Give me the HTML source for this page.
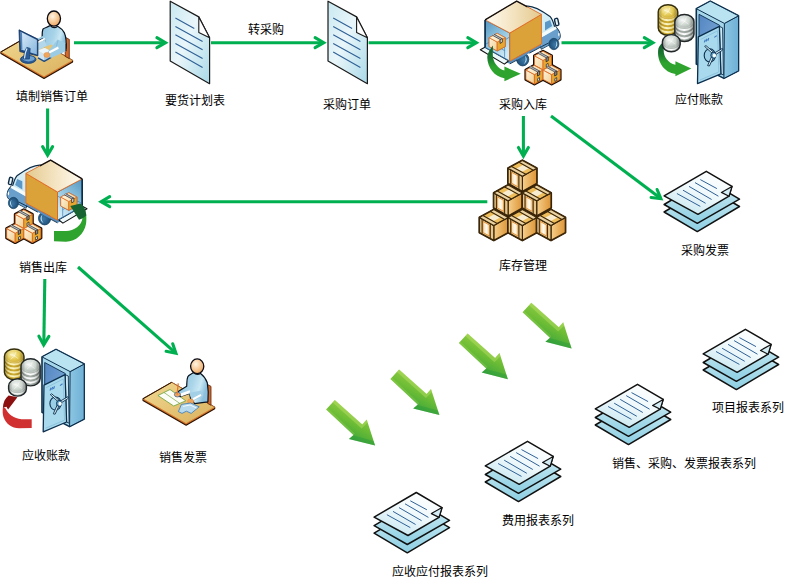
<!DOCTYPE html>
<html lang="zh"><head><meta charset="utf-8"><title>业务流程图</title>
<style>
html,body{margin:0;padding:0;background:#fff;}
body{width:801px;height:584px;overflow:hidden;position:relative;font-family:"Liberation Sans","Noto Sans CJK SC",sans-serif;}
svg{position:absolute;left:0;top:0;display:block;}
.t{position:absolute;font-size:12px;line-height:12px;color:transparent;white-space:nowrap;margin:0;}
</style></head><body>
<svg width="801" height="584" viewBox="0 0 801 584">
<defs>
<linearGradient id="gDoc" x1="0" y1="0" x2="1" y2="1">
 <stop offset="0" stop-color="#c9e8f1"/><stop offset="0.45" stop-color="#e9f6fa"/><stop offset="1" stop-color="#a9d9e8"/>
</linearGradient>
<g id="doc">
 <path d="M0 0L28.6 15.7L39.4 36.5L39.4 82.5L0 59.9Z" fill="url(#gDoc)" stroke="#1a1a1a" stroke-width="1.2" stroke-linejoin="round"/>
 <path d="M28.6 15.7L28.6 31.2L39.4 36.5Z" fill="#ffffff" stroke="#1a1a1a" stroke-width="1.1" stroke-linejoin="round"/>
 <path d="M5.2 16.9L24.1 27.4M5.2 25.2L32.4 40.3M5.2 33.5L32.4 48.5M5.2 42.2L32.4 57.3M5.2 50.8L32.4 66.3" stroke="#2f6096" stroke-width="1.1" fill="none"/>
</g>

<linearGradient id="gSheetTop" x1="0.8" y1="0" x2="0.2" y2="1">
 <stop offset="0" stop-color="#ffffff"/><stop offset="0.5" stop-color="#eef8fb"/><stop offset="1" stop-color="#c4e6f0"/>
</linearGradient>
<linearGradient id="gSheetLow" x1="0.5" y1="0" x2="0.5" y2="1">
 <stop offset="0" stop-color="#d5eef5"/><stop offset="1" stop-color="#8ccfe3"/>
</linearGradient>
<g id="stack">
 <path d="M0.1 41L42.3 16L75.5 35.5L33.3 60.6Z" fill="url(#gSheetLow)" stroke="#111" stroke-width="1.5" stroke-linejoin="round"/>
 <path d="M0.1 33.5L42.3 8.5L75.5 28.2L33.3 52.3Z" fill="url(#gSheetLow)" stroke="#111" stroke-width="1.5" stroke-linejoin="round"/>
 <path d="M0.1 24.9L42.3 0.3L68 15.4L65 25.2L34 43.3Z" fill="url(#gSheetTop)" stroke="#111" stroke-width="1.5" stroke-linejoin="round"/>
 <path d="M68 15.4L57.4 21.4L65 25.2Z" fill="#d4edf4" stroke="#111" stroke-width="1.2" stroke-linejoin="round"/>
 <path d="M36.3 8.6L52.9 17.6M31 11.6L54.4 25.2M25 15.4L47.6 28.5M19 19.2L41.6 32.3M12.9 22.5L36.3 35.4" stroke="#2f6096" stroke-width="1" fill="none"/>
</g>

<linearGradient id="gBig" x1="0.75" y1="0.1" x2="0.3" y2="0.9">
 <stop offset="0" stop-color="#a4d54a"/><stop offset="0.5" stop-color="#6cbc35"/><stop offset="1" stop-color="#2a9e3c"/>
</linearGradient>
<g id="big">
 <path d="M19.8 10L11.1 19.5L38.4 45L33.9 48.9L60.1 55.6L51.7 29.5L47.3 34.5Z" fill="url(#gBig)"/>
 <path d="M19.8 10L47.3 34.5L51.7 29.5L52.7 32.6L46.6 38.6L17.6 12.4Z" fill="#d8f07a" fill-opacity="0.3"/>
 <path d="M11.1 19.5L38.4 45L39.9 43.4L12.6 17.9Z" fill="#c6ea6a" fill-opacity="0.22"/>
 <path d="M33.9 48.9L60.1 55.6L58.6 51L38.6 45.4Z" fill="#1f9440" fill-opacity="0.35"/>
</g>
<linearGradient id="gCrR" x1="0" y1="0" x2="1" y2="0"><stop offset="0" stop-color="#f6cf8c"/><stop offset="1" stop-color="#dd9536"/></linearGradient>
<linearGradient id="gCrL" x1="0" y1="0" x2="1" y2="0"><stop offset="0" stop-color="#f3d9a6"/><stop offset="0.55" stop-color="#fffaf0"/><stop offset="1" stop-color="#f0d49c"/></linearGradient>
<g id="crate" stroke-linejoin="round">
 <path d="M0 0L14.3 7.9L14.3 22.9L0 30.8L-14.3 22.9L-14.3 7.9Z" fill="#e9cf9c" stroke="#33200a" stroke-width="2.2"/>
 <path d="M0 15.8L14.3 7.9L14.3 22.9L0 30.8Z" fill="url(#gCrR)" stroke="#3d2708" stroke-width="1.2"/>
 <path d="M-14.3 7.9L0 15.8L0 30.8L-14.3 22.9Z" fill="#e6c88e" stroke="#3d2708" stroke-width="1.2"/>
 <path d="M-10.9 11.8L-4.4 15.4L-4.4 26.4L-10.9 22.8Z" fill="url(#gCrL)" stroke="#df8426" stroke-width="0.8"/>
 <path d="M-11.7 9.6L-11.7 24.2M-3.5 14L-3.5 28.6" stroke="#4a2f0a" stroke-width="1.1" fill="none"/>
 <path d="M0 0L14.3 7.9L0 15.8L-14.3 7.9Z" fill="#efbe5c" stroke="#3d2708" stroke-width="1.2"/>
 <path d="M0.6 4.6L6.4 7.8L-0.2 11.4L-6 8.2Z" fill="#f8ecd0"/>
 <path d="M0 0L14.3 7.9L10.9 9.8L-3.4 1.9Z" fill="#ead2a2" stroke="#3d2708" stroke-width="1.1"/>
 <path d="M-14.3 7.9L0 15.8L3.4 13.9L-10.9 6Z" fill="#ead2a2" stroke="#3d2708" stroke-width="1.1"/>
</g>

<linearGradient id="gBxL" x1="0" y1="0" x2="1" y2="1"><stop offset="0" stop-color="#fff3dc"/><stop offset="1" stop-color="#efcf92"/></linearGradient>
<linearGradient id="gBxT" x1="0" y1="0" x2="1" y2="0"><stop offset="0" stop-color="#fff6e2"/><stop offset="1" stop-color="#f3d9a0"/></linearGradient>
<g id="sboxO" stroke-linejoin="round">
 <path d="M0 0L8.5 4.6L8.5 14L0 18.6L-8.5 14L-8.5 4.6Z" fill="#1a0f05" stroke="#1a0f05" stroke-width="3"/>
</g>
<g id="sboxF" stroke-linejoin="round">
 <path d="M-8.5 4.6L0 9.2L0 18.6L-8.5 14Z" fill="url(#gBxL)" stroke="#e0681e" stroke-width="0.8"/>
 <path d="M0 9.2L8.5 4.6L8.5 14L0 18.6Z" fill="#e6a733" stroke="#e0681e" stroke-width="0.8"/>
 <path d="M0 0L8.5 4.6L0 9.2L-8.5 4.6Z" fill="url(#gBxT)" stroke="#e0681e" stroke-width="0.8"/>
 <path d="M-5.4 1.9L3.1 6.5L5.3 5.3L-3.2 0.7Z" fill="#b9bec2"/>
 <path d="M-5 2.1L3.3 6.6M-3.4 1L4.9 5.5" stroke="#30343a" stroke-width="0.7" fill="none"/>
 <path d="M3.1 6.7L5.3 5.5L5.3 9.4L3.1 10.6Z" fill="#8a8f94" stroke="#15181c" stroke-width="0.7"/>
 <path d="M3.3 13.2L5.1 12.2L5.1 15L3.3 16Z" fill="#f4f4f4" stroke="#15181c" stroke-width="0.7"/>
</g>
<g id="sbox"><use href="#sboxO"/><use href="#sboxF"/></g>
<g id="sboxIn" stroke-linejoin="round">
 <path d="M0 0L8.5 4.6L8.5 14L0 18.6L-8.5 14L-8.5 4.6Z" fill="#e7a834" stroke="#5d7fa6" stroke-width="1"/>
 <path d="M-8.5 4.6L0 9.2L0 18.6L-8.5 14Z" fill="url(#gBxL)" stroke="#e0681e" stroke-width="0.8"/>
 <path d="M0 9.2L8.5 4.6L8.5 14L0 18.6Z" fill="#e6a733" stroke="#e0681e" stroke-width="0.8"/>
 <path d="M0 0L8.5 4.6L0 9.2L-8.5 4.6Z" fill="url(#gBxT)" stroke="#e0681e" stroke-width="0.8"/>
 <path d="M-5.4 1.9L3.1 6.5L5.3 5.3L-3.2 0.7Z" fill="#c4c8cb"/>
 <path d="M-5 2.1L3.3 6.6M-3.4 1L4.9 5.5" stroke="#30343a" stroke-width="0.8" fill="none"/>
 <path d="M3.1 6.7L5.3 5.5L5.3 9.4L3.1 10.6Z" fill="#f2f2f2" stroke="#15181c" stroke-width="0.8"/>
</g>
<g id="box3"><use href="#sboxO" x="8.6" y="0"/><use href="#sboxO" x="0" y="14.2"/><use href="#sboxO" x="17.2" y="14.2"/><use href="#sboxF" x="8.6" y="0"/><use href="#sboxF" x="0" y="14.2"/><use href="#sboxF" x="17.2" y="14.2"/></g>

<linearGradient id="gTkTop" x1="0" y1="0" x2="1" y2="0"><stop offset="0" stop-color="#fffaf0"/><stop offset="0.5" stop-color="#f3e3c0"/><stop offset="1" stop-color="#e4c98e"/></linearGradient>
<linearGradient id="gTkIn" x1="0" y1="0" x2="0.6" y2="1"><stop offset="0" stop-color="#5596c0"/><stop offset="0.55" stop-color="#93c6e0"/><stop offset="1" stop-color="#cfeaf5"/></linearGradient>
<linearGradient id="gCab" x1="0" y1="0" x2="1" y2="1"><stop offset="0" stop-color="#e9f7fb"/><stop offset="1" stop-color="#b9e0ee"/></linearGradient>
<radialGradient id="gWh" cx="0.6" cy="0.55" r="0.6"><stop offset="0" stop-color="#3f79a8"/><stop offset="1" stop-color="#1b4b74"/></radialGradient>
<g id="wheel">
 <ellipse cx="0" cy="0" rx="6.1" ry="6.6" fill="url(#gWh)" stroke="#16405f" stroke-width="0.8"/>
 <path d="M2.2 -3.6C5 -1.5,4.6 3,1 4.6C3 2.6,3.6 -0.8,2.2 -3.6Z" fill="#bfe6f4"/>
</g>
<g id="truck" stroke-linejoin="round">
 <!-- cab -->
 <path d="M526 6.2C531 5.2,541 10,550 16.4C552.5 19,553.5 23,554.4 26C558 29,559.8 32,560 34.5C560.4 36.5,560 38.5,558 40L541.4 49L536 30Z" fill="url(#gCab)" stroke="#0d2b45" stroke-width="1.2"/>
 <path d="M541.4 37.2L556.6 28.6C559 31,560 33.5,560 35.5C560.2 37.5,559.8 38.8,558 40L541.4 49Z" fill="#6a9fcb"/>
 <path d="M541.4 33.6L555.4 26.4L556.8 28.8L541.4 37.4Z" fill="#f4fbfd"/>
 <path d="M545 22.3L550.1 19.9L552.2 26L545 30.5Z" fill="#5a96c6"/>
 <path d="M558.6 32.6C559.8 33.4,559.8 35.6,558.8 36.4C558 35.4,558 33.6,558.6 32.6Z" fill="#ffffff"/>
 <rect x="555" y="18.4" width="3.4" height="7.2" rx="1.2" transform="rotate(-12 556.7 22)" fill="#e9f6fb" stroke="#0d2b45" stroke-width="1.4"/>
 <!-- chassis -->
 <use href="#wheel" x="522.7" y="59.3"/>
 <path d="M509.8 61.1L541.4 44L541.4 46.6L509.8 63.8L506 62.2Z" fill="#5a90c0"/>
 <path d="M509.8 63.9L517 60M529.4 53.2L541.4 46.7L548.6 43" stroke="#0d2b45" stroke-width="0.9" fill="none"/>
 <use href="#wheel" transform="translate(553.9,44) scale(0.83,0.86)"/>
 <!-- tailgate -->
 <path d="M480.3 49.7L484.9 47.3L508.7 60.8L504.4 64.1Z" fill="#eef9fc" stroke="#111" stroke-width="1.1"/>
 <!-- back opening -->
 <path d="M485.1 19.9L509.8 33L509.8 61.1L485.1 47.3Z" fill="url(#gTkIn)" stroke="#2f6fa8" stroke-width="1"/>
 <path d="M509.8 37L504.6 40L504.6 57.6M485.6 44.2L489.4 42.2L504.6 50.6" stroke="#3f7fb6" stroke-width="0.7" fill="none"/>
 <!-- right (orange) face -->
 <path d="M509.8 33L541.4 14.4L541.4 44L509.8 61.1Z" fill="#dba23a" stroke="#e0681e" stroke-width="0.9"/>
 <!-- top face -->
 <path d="M485.1 19.9L516.7 1.1L541.4 14.4L509.8 33Z" fill="url(#gTkTop)" stroke="#e0681e" stroke-width="0.9"/>
 <path d="M485.1 19.9L516.7 1.1L527.4 6.9" fill="none" stroke="#111" stroke-width="1.3"/>
 <path d="M485.1 19.9L485.1 47.3" fill="none" stroke="#0d2b45" stroke-width="1.6"/>
</g>
<linearGradient id="gGr1" x1="0" y1="0" x2="0" y2="1"><stop offset="0" stop-color="#115a2c"/><stop offset="0.35" stop-color="#1c7a30"/><stop offset="0.6" stop-color="#2ea32e"/><stop offset="1" stop-color="#2ea32e"/></linearGradient>
<linearGradient id="gGr2" x1="0" y1="1" x2="0.9" y2="0"><stop offset="0" stop-color="#2ea32e"/><stop offset="0.7" stop-color="#2ea32e"/><stop offset="1" stop-color="#1c6a30"/></linearGradient>


<linearGradient id="ggD" x1="0" y1="0" x2="1" y2="0"><stop offset="0" stop-color="#a9861a"/><stop offset="0.45" stop-color="#cfae34"/><stop offset="1" stop-color="#9c7a14"/></linearGradient>
<linearGradient id="gsD" x1="0" y1="0" x2="1" y2="0"><stop offset="0" stop-color="#868e89"/><stop offset="0.45" stop-color="#a9b1ab"/><stop offset="1" stop-color="#767e79"/></linearGradient>
<linearGradient id="gShade" x1="0" y1="0" x2="1" y2="0"><stop offset="0" stop-color="#000" stop-opacity="0.28"/><stop offset="0.22" stop-color="#000" stop-opacity="0"/><stop offset="0.75" stop-color="#000" stop-opacity="0"/><stop offset="1" stop-color="#000" stop-opacity="0.3"/></linearGradient>
<linearGradient id="ggE" x1="0" y1="0" x2="1" y2="0"><stop offset="0" stop-color="#c9a422"/><stop offset="0.45" stop-color="#ecd564"/><stop offset="1" stop-color="#b8921c"/></linearGradient>
<linearGradient id="ggR" x1="0" y1="0" x2="1" y2="0"><stop offset="0" stop-color="#e6d26c"/><stop offset="0.45" stop-color="#fcf6c8"/><stop offset="1" stop-color="#d6bc50"/></linearGradient>
<radialGradient id="ggT" cx="0.42" cy="0.38" r="0.7"><stop offset="0" stop-color="#fbf3c0"/><stop offset="0.45" stop-color="#e6cd58"/><stop offset="1" stop-color="#c39d22"/></radialGradient>
<linearGradient id="gsE" x1="0" y1="0" x2="1" y2="0"><stop offset="0" stop-color="#a3aba5"/><stop offset="0.45" stop-color="#d3dad4"/><stop offset="1" stop-color="#8e9691"/></linearGradient>
<linearGradient id="gsR" x1="0" y1="0" x2="1" y2="0"><stop offset="0" stop-color="#d8dedb"/><stop offset="0.5" stop-color="#ffffff"/><stop offset="1" stop-color="#c2c9c5"/></linearGradient>
<radialGradient id="gsT" cx="0.42" cy="0.38" r="0.7"><stop offset="0" stop-color="#f4f7f4"/><stop offset="0.5" stop-color="#cdd5cf"/><stop offset="1" stop-color="#9aa39d"/></radialGradient>
<linearGradient id="gSfR" x1="0" y1="0" x2="1" y2="0"><stop offset="0" stop-color="#8cc6e2"/><stop offset="1" stop-color="#6fb0d6"/></linearGradient>
<linearGradient id="gSfIn" x1="0" y1="0" x2="1" y2="1"><stop offset="0" stop-color="#5586c2"/><stop offset="1" stop-color="#7fadd9"/></linearGradient>
<g id="coins"><path d="M658.2 12A9.8 7.3 0 0 1 677.8 12L677.8 28.00A9.8 7.3 0 0 1 658.2 28.00Z" fill="url(#ggD)"/><ellipse cx="668" cy="26.00" rx="9.8" ry="7.3" fill="url(#ggR)"/><ellipse cx="668" cy="24.00" rx="9.8" ry="7.3" fill="url(#ggD)"/><ellipse cx="668" cy="22.00" rx="9.8" ry="7.3" fill="url(#ggR)"/><ellipse cx="668" cy="20.00" rx="9.8" ry="7.3" fill="url(#ggD)"/><ellipse cx="668" cy="18.00" rx="9.8" ry="7.3" fill="url(#ggR)"/><ellipse cx="668" cy="16.00" rx="9.8" ry="7.3" fill="url(#ggD)"/><ellipse cx="668" cy="14.00" rx="9.8" ry="7.3" fill="url(#ggR)"/><ellipse cx="668" cy="12.00" rx="9.8" ry="7.3" fill="url(#ggT)"/><ellipse cx="668" cy="12.00" rx="8.5" ry="6.199999999999999" fill="none" stroke="#ffffff" stroke-opacity="0.35" stroke-width="0.7"/><path d="M664.6 14.80L668.2 11.60L669.8 7.80M668.2 11.60L671.8 14.20M668.2 11.60L664.2 10.20" fill="none" stroke="#ffffff" stroke-opacity="0.5" stroke-width="0.9" stroke-linecap="round"/><path d="M658.2 12A9.8 7.3 0 0 1 677.8 12L677.8 28.00A9.8 7.3 0 0 1 658.2 28.00Z" fill="url(#gShade)"/><path d="M658.2 12A9.8 7.3 0 0 1 677.8 12L677.8 28.00A9.8 7.3 0 0 1 658.2 28.00Z" fill="none" stroke="#332e0c" stroke-width="1.4"/><path d="M674.8 21.8A9.6 7.3 0 0 1 694.0 21.8L694.0 34.25A9.6 7.3 0 0 1 674.8 34.25Z" fill="url(#gsD)"/><ellipse cx="684.4" cy="32.10" rx="9.6" ry="7.3" fill="url(#gsR)"/><ellipse cx="684.4" cy="30.10" rx="9.6" ry="7.3" fill="url(#gsD)"/><ellipse cx="684.4" cy="27.95" rx="9.6" ry="7.3" fill="url(#gsR)"/><ellipse cx="684.4" cy="25.95" rx="9.6" ry="7.3" fill="url(#gsD)"/><ellipse cx="684.4" cy="23.80" rx="9.6" ry="7.3" fill="url(#gsR)"/><ellipse cx="684.4" cy="21.80" rx="9.6" ry="7.3" fill="url(#gsT)"/><ellipse cx="684.4" cy="21.80" rx="8.299999999999999" ry="6.199999999999999" fill="none" stroke="#ffffff" stroke-opacity="0.35" stroke-width="0.7"/><path d="M681.0 24.60L684.6 21.40L686.1999999999999 17.60M684.6 21.40L688.1999999999999 24.00M684.6 21.40L680.6 20.00" fill="none" stroke="#ffffff" stroke-opacity="0.5" stroke-width="0.9" stroke-linecap="round"/><path d="M674.8 21.8A9.6 7.3 0 0 1 694.0 21.8L694.0 34.25A9.6 7.3 0 0 1 674.8 34.25Z" fill="url(#gShade)"/><path d="M674.8 21.8A9.6 7.3 0 0 1 694.0 21.8L694.0 34.25A9.6 7.3 0 0 1 674.8 34.25Z" fill="none" stroke="#22282a" stroke-width="1.4"/><path d="M662.4 41.8A8.9 7.2 0 0 1 680.1999999999999 41.8L680.1999999999999 44.60A8.9 7.2 0 0 1 662.4 44.60Z" fill="url(#gsD)"/><ellipse cx="671.3" cy="43.34" rx="8.9" ry="7.2" fill="url(#gsR)"/><ellipse cx="671.3" cy="41.80" rx="8.9" ry="7.2" fill="url(#gsT)"/><ellipse cx="671.3" cy="41.80" rx="7.6000000000000005" ry="6.1" fill="none" stroke="#ffffff" stroke-opacity="0.35" stroke-width="0.7"/><path d="M667.9 44.60L671.5 41.40L673.0999999999999 37.60M671.5 41.40L675.0999999999999 44.00M671.5 41.40L667.5 40.00" fill="none" stroke="#ffffff" stroke-opacity="0.5" stroke-width="0.9" stroke-linecap="round"/><path d="M662.4 41.8A8.9 7.2 0 0 1 680.1999999999999 41.8L680.1999999999999 44.60A8.9 7.2 0 0 1 662.4 44.60Z" fill="url(#gShade)"/><path d="M662.4 41.8A8.9 7.2 0 0 1 680.1999999999999 41.8L680.1999999999999 44.60A8.9 7.2 0 0 1 662.4 44.60Z" fill="none" stroke="#22282a" stroke-width="1.4"/></g>
<g id="safe" stroke-linejoin="round">
 <path d="M696.3 8.7L710.3 1.2L738.5 15.8L738.5 70.8L723.9 78.4L696.3 64Z" fill="#a6d6e9" stroke="#0c2f4e" stroke-width="1.6"/>
 <path d="M724.4 23.4L738.5 15.8L738.5 70.8L723.9 78.4Z" fill="url(#gSfR)" stroke="#0c2f4e" stroke-width="1"/>
 <path d="M696.3 8.7L710.3 1.2L738.5 15.8L724.4 23.4Z" fill="#b9e3f0" stroke="#0c2f4e" stroke-width="1"/>
 <path d="M699 14.3L719.6 25.3L719.6 70L699 59Z" fill="url(#gSfIn)" stroke="#0c2f4e" stroke-width="0.9"/>
 <path d="M699 30L719.6 20" stroke="#3c6aa8" stroke-width="0" fill="none"/>
 <!-- door -->
 <path d="M719.4 26.4L722.6 27.8L723.4 75L720.9 73.8Z" fill="#cdebf6" stroke="#0c2f4e" stroke-width="0.9"/>
 <path d="M698.3 36.9L719.4 26.4L720.9 73.8L697.5 83.6Z" fill="#a9d9ec" stroke="#0c2f4e" stroke-width="1.3"/>
 <path d="M700.6 39.4L717.6 30.8L718.8 72L699.9 80" fill="none" stroke="#7fb9d8" stroke-width="0.7"/>
 <path d="M704.3 42.4L705.3 39.6M706 41.6L707 38.8M707.8 40.8L708.8 38M714.3 37.4L716.8 35.6" stroke="#3f78c0" stroke-width="1.1" fill="none"/>
 <ellipse cx="709.8" cy="55.4" rx="5.6" ry="6.6" fill="#9bcfe6" stroke="#0c2f4e" stroke-width="1.1"/>
 <path d="M712.5 53.6L704.6 46.4L706 45.6L714 52.6Z" fill="#d9f1f9" stroke="#0c2f4e" stroke-width="0.9"/>
 <path d="M712 55.6L707.6 65.6L709.4 66L713.8 56.6Z" fill="#d9f1f9" stroke="#0c2f4e" stroke-width="0.9"/>
 <path d="M713 53.8L722.4 48.4L722.8 50L714 55.6Z" fill="#d9f1f9" stroke="#0c2f4e" stroke-width="0.9"/>
 <ellipse cx="713.4" cy="55.2" rx="2.6" ry="3" fill="#5f9cc6" stroke="#0c2f4e" stroke-width="0.9"/>
 <ellipse cx="714.4" cy="55.6" rx="1.7" ry="2" fill="#f7fcfe"/>
</g>


<linearGradient id="gDesk" x1="0" y1="0" x2="1" y2="1"><stop offset="0" stop-color="#f0d892"/><stop offset="0.5" stop-color="#e6c577"/><stop offset="1" stop-color="#d9b05f"/></linearGradient>
<radialGradient id="gHead" cx="0.4" cy="0.35" r="0.75"><stop offset="0" stop-color="#fff4e6"/><stop offset="0.45" stop-color="#f8cfa0"/><stop offset="0.85" stop-color="#eea866"/><stop offset="1" stop-color="#e4823e"/></radialGradient>
<linearGradient id="gBody" x1="0" y1="0" x2="1" y2="0.3"><stop offset="0" stop-color="#8fc3df"/><stop offset="0.55" stop-color="#a9d4e9"/><stop offset="0.8" stop-color="#c9e8f4"/><stop offset="1" stop-color="#8cc0dd"/></linearGradient>
<linearGradient id="gScr" x1="0" y1="0" x2="1" y2="1"><stop offset="0" stop-color="#dcecf9"/><stop offset="1" stop-color="#86b6de"/></linearGradient>
<g id="desk" stroke-linejoin="round">
 <path d="M0.9 52L29.5 35.6L72.6 60.4L72.6 62L44 78.4L0.9 53.6Z" fill="#c8641e" stroke="#2a1404" stroke-width="1.1"/>
 <path d="M0.9 52L29.5 35.6L72.6 60.4L44 76.8Z" fill="url(#gDesk)" stroke="#d8742a" stroke-width="0.7"/>
 <path d="M0.9 52L29.5 35.6" stroke="#2a1404" stroke-width="1" fill="none"/>
</g>
<g id="chair" stroke-linejoin="round">
 <path d="M65.2 37.2L69.3 39.4L69.3 58.6L65.2 56.4Z" fill="#d5692a" stroke="#5a2408" stroke-width="0.8"/>
</g>
<g id="torso" stroke-linejoin="round">
 <path d="M50.3 25.6C47 27.5,44 27.8,42.9 29.2C41.8 32,42.3 36,42.1 38.7L44.6 40.4L44.6 48L52 52L66 48.4C66.5 42,66.2 37,64.4 32.9C62.6 29.5,60 27.5,57.7 26.2C55 28.3,52.5 28,50.3 25.6Z" fill="url(#gBody)" stroke="#0a1420" stroke-width="1.2"/>
</g>
<g id="head">
 <ellipse cx="53.9" cy="18.6" rx="6.6" ry="7.6" fill="url(#gHead)" stroke="#0a0a14" stroke-width="1.3"/>
</g>
</defs>
<g id="arrows"><path d="M74.0 42.7L165.0 42.7" stroke="#00b050" stroke-width="3.1" fill="none"/><path d="M156.9 47.7L165.5 42.7L156.9 37.7" stroke="#00b050" stroke-width="3.1" fill="none" stroke-linecap="round" stroke-linejoin="miter" stroke-miterlimit="10"/>
<path d="M211.0 42.7L323.2 42.7" stroke="#00b050" stroke-width="3.1" fill="none"/><path d="M315.1 47.7L323.7 42.7L315.1 37.7" stroke="#00b050" stroke-width="3.1" fill="none" stroke-linecap="round" stroke-linejoin="miter" stroke-miterlimit="10"/>
<path d="M368.6 42.7L475.9 42.7" stroke="#00b050" stroke-width="3.1" fill="none"/><path d="M467.8 47.7L476.4 42.7L467.8 37.7" stroke="#00b050" stroke-width="3.1" fill="none" stroke-linecap="round" stroke-linejoin="miter" stroke-miterlimit="10"/>
<path d="M561.5 42.7L652.4 42.7" stroke="#00b050" stroke-width="3.1" fill="none"/><path d="M644.3 47.7L652.9 42.7L644.3 37.7" stroke="#00b050" stroke-width="3.1" fill="none" stroke-linecap="round" stroke-linejoin="miter" stroke-miterlimit="10"/>
<path d="M47.6 108.5L47.6 154.7" stroke="#00b050" stroke-width="3.1" fill="none"/><path d="M42.6 146.6L47.6 155.2L52.6 146.6" stroke="#00b050" stroke-width="3.1" fill="none" stroke-linecap="round" stroke-linejoin="miter" stroke-miterlimit="10"/>
<path d="M523.4 116.0L523.4 155.6" stroke="#00b050" stroke-width="3.1" fill="none"/><path d="M518.4 147.5L523.4 156.1L528.4 147.5" stroke="#00b050" stroke-width="3.1" fill="none" stroke-linecap="round" stroke-linejoin="miter" stroke-miterlimit="10"/>
<path d="M551.0 116.0L660.5 198.3" stroke="#00b050" stroke-width="3.1" fill="none"/><path d="M651.1 197.5L660.9 198.6L657.1 189.5" stroke="#00b050" stroke-width="3.1" fill="none" stroke-linecap="round" stroke-linejoin="miter" stroke-miterlimit="10"/>
<path d="M487.3 201.7L101.6 201.7" stroke="#00b050" stroke-width="3.1" fill="none"/><path d="M109.7 196.7L101.1 201.7L109.7 206.7" stroke="#00b050" stroke-width="3.1" fill="none" stroke-linecap="round" stroke-linejoin="miter" stroke-miterlimit="10"/>
<path d="M44.8 279.0L43.8 344.4" stroke="#00b050" stroke-width="3.1" fill="none"/><path d="M38.9 336.2L43.7 344.9L48.9 336.4" stroke="#00b050" stroke-width="3.1" fill="none" stroke-linecap="round" stroke-linejoin="miter" stroke-miterlimit="10"/>
<path d="M78.0 267.0L175.5 352.9" stroke="#00b050" stroke-width="3.1" fill="none"/><path d="M166.1 351.3L175.9 353.3L172.7 343.8" stroke="#00b050" stroke-width="3.1" fill="none" stroke-linecap="round" stroke-linejoin="miter" stroke-miterlimit="10"/></g>
<use href="#doc" x="170.2" y="1.2"/><use href="#doc" x="328" y="1.2"/>
<use href="#stack" x="664.0" y="171.0"/><use href="#stack" x="703.1" y="329.0"/><use href="#stack" x="595.2" y="384.0"/><use href="#stack" x="485.2" y="441.0"/><use href="#stack" x="374.0" y="492.2"/><use href="#big" x="315.0" y="390.0"/><use href="#big" x="379.3" y="359.5"/><use href="#big" x="447.8" y="323.6"/><use href="#big" x="511.5" y="292.8"/><g id="crates"><use href="#crate" x="522.4" y="160.4"/><use href="#crate" x="508.1" y="185"/><use href="#crate" x="536.7" y="185"/><use href="#crate" x="493.8" y="209.6"/><use href="#crate" x="522.4" y="209.6"/><use href="#crate" x="551" y="209.6"/></g>
<use href="#box3" x="534.4" y="51.2"/>
<use href="#box3" x="15.2" y="209.8"/>
<use href="#truck"/>
<use href="#sboxIn" transform="translate(497.2,33.3) scale(0.95)"/>
<path d="M492.9 45.6C490 50,487.4 53,487.3 57.5C487.3 67,494.5 77,504.4 78.2L504.4 81.2L520.8 73.8L504.4 66.6L504.4 70.6C498 69,492.6 62,492.8 54.7Z" fill="url(#gGr1)"/>
<use href="#truck" transform="translate(567.3,159) scale(-1,1)"/>
<use href="#sboxIn" transform="translate(68.8,192.7) scale(0.95)"/>
<path d="M54 231L66 231C74 231,82 225.5,82.6 217.6L86 213C86.6 218,86.4 221,86 224C84 234,76 241.7,66 241.7L54 241.2Z" fill="#2ea32e"/>
<path d="M70.3 206.1L80.5 203.6C84 206,86 210,86.3 215.5L82.7 218.2L79 219.8Z" fill="#176332"/>
<use href="#safe"/>
<path d="M663 42.6C660 45,658.2 47.5,658.1 50.5C657.2 62.5,664.5 72.6,675.4 73.9L675.4 76.2L691.3 68.6L675.4 61.2L675.4 64.8C668 63,663.5 57,663.7 49.8C663.9 47,664.7 45,666 43.5Z" fill="url(#gGr1)"/>
<use href="#coins"/>
<use href="#safe" transform="translate(-654.3,348.2)"/><use href="#coins" transform="translate(-653.8,344.3)"/>
<path d="M31.7 419.2L21.4 419.2C14 418.5,8 414,5.6 408.4L3 407C2.4 411,2.6 414,3.5 417C6 424,12 428.3,19 428.3L31.7 427.9Z" fill="#d13030"/>
<path d="M8.6 395.4L17.4 397.2L8.1 409.4L6.4 406.8L2.9 407.8C3 402.6,5 398.4,8.6 395.4Z" fill="#8c1010"/>
<g id="person1" stroke-linejoin="round">
 <use href="#desk"/><use href="#chair"/><use href="#torso"/><use href="#head"/>
 <path d="M42.6 36L37.9 38.6L37.9 41L44.8 37.6Z" fill="#9ccbe4"/>
 <path d="M42.4 38.6L37.9 41" stroke="#0a1420" stroke-width="0.9" fill="none"/>
 <path d="M37.9 41.2L44.8 37.8L44.8 39.8L37.9 43.2Z" fill="#ffffff"/>
 <path d="M37.9 43.2L44.8 39.8L46.4 44.6L46.4 46.4L37.9 50.4Z" fill="#b3d8ec"/>
 <path d="M40.4 49.2L46.4 46.2L51 44.6L56.4 47.6L49.6 51.4L44.4 51.4Z" fill="#e6c577"/>
 <path d="M38 50.6L44.2 54.2L44.2 61.4L38 57.8Z" fill="#cfe5f3"/>
 <path d="M38 50.6L44.6 47.8L51.6 51.4L44.2 54.2Z" fill="#eaf5fb"/>
 <path d="M44.2 54.2L51.6 51.4L51.6 57.2L44.2 61.4Z" fill="#a9cde6"/>
 <path d="M38 57.8L44.2 61.4L51.6 57.2" fill="none" stroke="#1f4b83" stroke-width="1.4"/>
 <path d="M57.5 39.5L66 43.2L66 51.2L51 58L48.4 55.4L47.6 52Z" fill="#9ccbe4"/>
 <path d="M58 40.4L56.4 46.4" stroke="#7fb5d6" stroke-width="0.8" fill="none"/>
 <path d="M66 43.2L66 51.2" stroke="#0a1420" stroke-width="1.1" fill="none"/>
 <path d="M48.6 51.4L58 46.6L58.8 48.8L49.6 53.6Z" fill="#ffffff"/>
 <ellipse cx="46.8" cy="54.9" rx="3" ry="2.5" fill="#f0a55c" stroke="#e08a40" stroke-width="0.5"/>
 <path d="M19 29.8L37.9 39.1L37.9 55.8L19.8 51.6Z" fill="#1f4b83" stroke="#10305c" stroke-width="0.8"/>
 <path d="M20.6 31.8L36.9 39.9L36.9 54.4L21 49.4Z" fill="url(#gScr)"/>
 <path d="M20.6 31.8L22 32.5L22.4 49.8L21 49.4Z" fill="#4f83bb"/>
 <ellipse cx="28.2" cy="59.4" rx="7.8" ry="4" fill="#2a5b94" stroke="#173f73" stroke-width="0.8"/>
 <ellipse cx="28.6" cy="58.7" rx="6" ry="2.7" fill="#6fa3d2"/>
 <path d="M26.8 47.4L30.2 48.4L29.4 59L23.4 59C23.6 54.5,24.8 50.5,26.8 47.4Z" fill="#2a5b94" stroke="#173f73" stroke-width="0.7"/>
 <path d="M27 48.4C25.4 51.6,24.6 55,24.5 58.4" fill="none" stroke="#d8ecfa" stroke-width="1.2"/>
</g>
<g id="person2" stroke-linejoin="round">
 <g transform="translate(142.1,346.8)"><use href="#desk"/></g>
 <path d="M207.7 384.6L211 386.4L211 405.2L207.7 403.4Z" fill="#d5692a" stroke="#5a2408" stroke-width="0.8"/>
 <path d="M157.9 395.5L170 389.5L185.8 400.8L173.7 406Z" fill="#fdfdf8" stroke="#76a844" stroke-width="0.9"/>
 <path d="M164 392.5L179.8 403.4" stroke="#76a844" stroke-width="0.7" fill="none"/>
 <path d="M193.6 372.6C191 374.5,188.8 375,187.8 376.7C186.6 379.5,186.9 383,186.7 386.2L178.6 391.2L176.4 394.4L179.8 396.6L189.6 393.4L190.6 398.6L194.6 403.6L207.9 401.8C208.5 396,208.4 389,207.3 382.8C205.8 378.4,203 375.2,200.6 373.4C198 375,195.6 374.6,193.6 372.6Z" fill="url(#gBody)" stroke="#0a1420" stroke-width="1.2"/>
 <path d="M180.4 393.4L189.8 390.2L190 393.2L181 396.4Z" fill="#ffffff"/>
 <path d="M189 392.8L192.4 401.4L203.4 396L201.4 390.4Z" fill="#a4d0e7"/>
 <path d="M192.6 398.2L200.6 394L201.4 395.8L193.4 400.2Z" fill="#ffffff"/>
 <ellipse cx="197.2" cy="366.3" rx="6.6" ry="7.4" fill="url(#gHead)" stroke="#0a0a14" stroke-width="1.3"/>
 <ellipse cx="177.4" cy="394.6" rx="3" ry="2.4" fill="#f0a55c" stroke="#2b5fa0" stroke-width="0.7"/>
 <path d="M177.6 383.2L178.9 383.4L177.6 394.8L176.5 394.6Z" fill="#e8742a"/>
 <ellipse cx="190.6" cy="401.4" rx="3" ry="2.5" fill="#f0a55c" stroke="#e08a40" stroke-width="0.5"/>
 <path d="M181.4 404.4L190.6 403L199.2 406.8L191.2 413.4L186.4 411.2L182 413.4L178.4 411.6Z" fill="#b7daee" stroke="#3a78b8" stroke-width="0.8"/>
 <path d="M183 406.4L190 405L196.4 408" fill="none" stroke="#f2fafd" stroke-width="1"/>
</g>
<g id="labels" fill="#000" font-family="&quot;Liberation Sans&quot;,&quot;Noto Sans CJK SC&quot;,sans-serif" font-size="12">
<text x="16" y="101">填制销售订单</text>
<text x="165" y="105">要货计划表</text>
<text x="248" y="34">转采购</text>
<text x="323" y="109">采购订单</text>
<text x="499" y="109">采购入库</text>
<text x="675" y="104">应付账款</text>
<text x="681" y="255">采购发票</text>
<text x="499" y="270">库存管理</text>
<text x="19" y="272">销售出库</text>
<text x="22" y="460">应收账款</text>
<text x="159" y="462">销售发票</text>
<text x="392" y="576">应收应付报表系列</text>
<text x="502" y="525">费用报表系列</text>
<text x="712" y="412">项目报表系列</text>
<text x="612" y="468">销售、采购、发票报表系列</text>
</g>
</svg>
<p class="t" style="left:16px;top:90px">填制销售订单</p><p class="t" style="left:165px;top:94px">要货计划表</p><p class="t" style="left:248px;top:23px">转采购</p><p class="t" style="left:323px;top:98px">采购订单</p><p class="t" style="left:499px;top:98px">采购入库</p><p class="t" style="left:675px;top:93px">应付账款</p><p class="t" style="left:681px;top:244px">采购发票</p><p class="t" style="left:499px;top:259px">库存管理</p><p class="t" style="left:19px;top:261px">销售出库</p><p class="t" style="left:22px;top:449px">应收账款</p><p class="t" style="left:159px;top:451px">销售发票</p><p class="t" style="left:392px;top:565px">应收应付报表系列</p><p class="t" style="left:502px;top:514px">费用报表系列</p><p class="t" style="left:712px;top:401px">项目报表系列</p><p class="t" style="left:612px;top:457px">销售、采购、发票报表系列</p>
</body></html>
